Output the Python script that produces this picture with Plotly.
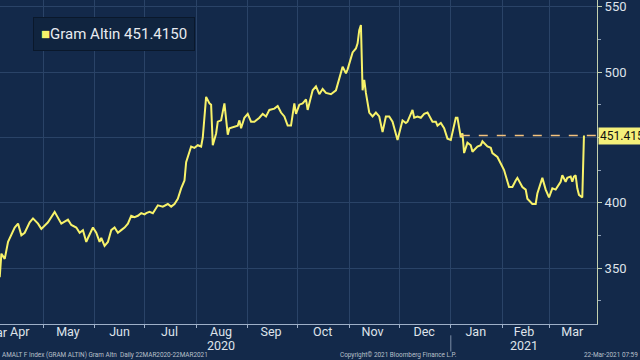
import plotly.graph_objects as go

# ---------------- data ----------------
dates = [
    "2020-04-03", "2020-04-05", "2020-04-06", "2020-04-08", "2020-04-10", "2020-04-14", "2020-04-16",
    "2020-04-18", "2020-04-20", "2020-04-23", "2020-04-25", "2020-04-28", "2020-04-30",
    "2020-05-04", "2020-05-08", "2020-05-12", "2020-05-16", "2020-05-18", "2020-05-21", "2020-05-23",
    "2020-05-25", "2020-05-27", "2020-05-28", "2020-05-31",
    "2020-06-02", "2020-06-04", "2020-06-05", "2020-06-07", "2020-06-09", "2020-06-11", "2020-06-13",
    "2020-06-15", "2020-06-17", "2020-06-19", "2020-06-21", "2020-06-23", "2020-06-25", "2020-06-27",
    "2020-06-29",
    "2020-07-01", "2020-07-02", "2020-07-04", "2020-07-06", "2020-07-09", "2020-07-12", "2020-07-15",
    "2020-07-17", "2020-07-19", "2020-07-21", "2020-07-23", "2020-07-25", "2020-07-26", "2020-07-29",
    "2020-07-31",
    "2020-08-02", "2020-08-04", "2020-08-05", "2020-08-07", "2020-08-09", "2020-08-10", "2020-08-11",
    "2020-08-13", "2020-08-14", "2020-08-16", "2020-08-18", "2020-08-20", "2020-08-21", "2020-08-24",
    "2020-08-26", "2020-08-27", "2020-08-28", "2020-08-30",
    "2020-09-01", "2020-09-03", "2020-09-05", "2020-09-08", "2020-09-10", "2020-09-12", "2020-09-14",
    "2020-09-17", "2020-09-19", "2020-09-21", "2020-09-23", "2020-09-25", "2020-09-27", "2020-09-29",
    "2020-09-30",
    "2020-10-02", "2020-10-04", "2020-10-06", "2020-10-07", "2020-10-10", "2020-10-12", "2020-10-14",
    "2020-10-16", "2020-10-18", "2020-10-21", "2020-10-24", "2020-10-25", "2020-10-28", "2020-10-30",
    "2020-10-31",
    "2020-11-03", "2020-11-05", "2020-11-06", "2020-11-07", "2020-11-08", "2020-11-09", "2020-11-10",
    "2020-11-11", "2020-11-13", "2020-11-15", "2020-11-17", "2020-11-19", "2020-11-21", "2020-11-23",
    "2020-11-25", "2020-11-27", "2020-11-30",
    "2020-12-03", "2020-12-05", "2020-12-06", "2020-12-09", "2020-12-10", "2020-12-12", "2020-12-14",
    "2020-12-16", "2020-12-18", "2020-12-21", "2020-12-23", "2020-12-24", "2020-12-26", "2020-12-28",
    "2020-12-30",
    "2021-01-01", "2021-01-04", "2021-01-05", "2021-01-07", "2021-01-08", "2021-01-09", "2021-01-11",
    "2021-01-13", "2021-01-14", "2021-01-17", "2021-01-19", "2021-01-20", "2021-01-23", "2021-01-25",
    "2021-01-26", "2021-01-29", "2021-01-31",
    "2021-02-02", "2021-02-05", "2021-02-07", "2021-02-09", "2021-02-10", "2021-02-13", "2021-02-15",
    "2021-02-16", "2021-02-19", "2021-02-21", "2021-02-22", "2021-02-25", "2021-02-27",
    "2021-03-01", "2021-03-03", "2021-03-05", "2021-03-08", "2021-03-09", "2021-03-11", "2021-03-12",
    "2021-03-14", "2021-03-15", "2021-03-16", "2021-03-17", "2021-03-18", "2021-03-19", "2021-03-21",
    "2021-03-22",
]
values = [
    366, 343, 361, 357, 370, 381, 384,
    375, 377, 385, 388, 384, 380,
    385, 393, 384, 387, 383, 381, 377,
    379, 370, 373, 381,
    377, 370, 373, 367, 370, 379, 381,
    377, 379, 381, 384, 390, 389, 390,
    392,
    391, 392, 393, 392, 398, 397, 399,
    397, 399, 403, 411, 417, 431, 443,
    442,
    444, 443, 450, 481, 476, 475, 444,
    453, 462, 463, 476, 452, 457, 458,
    459, 463, 457, 465,
    468, 462, 462, 465, 468, 466, 471,
    472, 474, 469, 466, 459, 459, 476,
    468,
    475, 476, 479, 471, 486, 489, 483,
    487, 484, 483, 486, 491, 504, 499,
    502,
    515, 518, 522, 532, 536, 486, 494,
    484, 469, 466, 469, 466, 454, 466,
    466, 462, 448,
    463, 461, 462, 471, 465, 466, 465,
    468, 469, 462, 462, 459, 461, 457,
    449,
    448, 465, 465, 450, 453, 438, 446,
    444, 439, 443, 444, 447, 443, 442,
    438, 435, 430,
    425, 412, 412, 417, 419, 412, 410,
    403, 399, 399, 407, 419, 410,
    404, 411, 410, 416, 421, 416, 419,
    420, 416, 420, 421, 411, 406, 404,
    451.415,
]
series_name = "Gram Altin"
last_value = 451.415
last_line_start = "2021-01-07"

x_range = ["2020-04-05 04:00", "2021-03-29 20:00"]
y_range = [307.2, 555.1]

month_label_dates = ["2020-04-17", "2020-05-16", "2020-06-16", "2020-07-16",
                     "2020-08-16", "2020-09-15", "2020-10-16", "2020-11-15", "2020-12-16",
                     "2021-01-16", "2021-02-14", "2021-03-15"]
month_labels = ["Apr", "May", "Jun", "Jul", "Aug", "Sep", "Oct", "Nov", "Dec",
                "Jan", "Feb", "Mar"]
first_month_label = "Mar"           # partly cut off at the left edge
year_label_dates = ["2020-08-16", "2021-02-14"]
year_labels = ["2020", "2021"]
month_starts = ["2020-05-01", "2020-06-01", "2020-07-01", "2020-08-01", "2020-09-01", "2020-10-01",
                "2020-11-01", "2020-12-01", "2021-01-01", "2021-02-01", "2021-03-01"]
year_break = "2021-01-01"

y_tick_vals = [350, 400, 450, 500, 550]
y_tick_text = ["350", "400", "", "500", "550"]

footer_left = "AMALT F Index (GRAM ALTIN) Gram Altn  Daily 22MAR2020-22MAR2021"
footer_mid = "Copyright\u00a9 2021 Bloomberg Finance L.P."
footer_right = "22-Mar-2021 07:59"

# ---------------- styles ----------------
BG = "#13294a"
GRID = "#2a4367"
LINE = "#f7f26a"
TXT = "#dfe3ea"
FOOT = "#b9c0cb"
FONT = "Roboto"
PLOT_H = 324.0
TICK_SIZE = 12.5

fig = go.Figure()
fig.add_trace(go.Scatter(
    x=dates, y=values, mode="lines", name=series_name,
    line=dict(color=LINE, width=2), showlegend=False, hoverinfo="skip",
))

fig.add_shape(type="line", xref="x", yref="y", x0=last_line_start, x1=x_range[1],
              y0=last_value, y1=last_value,
              line=dict(color="#f4c27e", width=1.6, dash="dash"))
fig.add_shape(type="line", xref="x", yref="paper", x0=year_break, x1=year_break,
              y0=-0.035, y1=-0.085, line=dict(color="#7d8ea6", width=1))

fig.update_layout(
    width=640, height=360,
    margin=dict(l=0, r=43, t=0, b=36),
    paper_bgcolor=BG, plot_bgcolor=BG,
    font=dict(family=FONT, color=TXT, size=13),
    xaxis=dict(
        type="date", range=x_range,
        tickmode="array", tickvals=month_label_dates, ticktext=month_labels,
        tickangle=0, automargin=False, ticklabelstandoff=-4,
        showgrid=False, ticks="", zeroline=False,
        showline=True, linecolor="#9fb0c8", linewidth=1,
        tickfont=dict(family=FONT, size=TICK_SIZE, color=TXT),
        ticklabeloverflow="allow",
        minor=dict(tickmode="array", tickvals=month_starts, showgrid=True,
                   gridcolor=GRID, gridwidth=1, ticks="outside", ticklen=3,
                   tickcolor="#9fb0c8"),
    ),
    yaxis=dict(
        side="right", range=y_range, automargin=False,
        tickmode="array", tickvals=y_tick_vals, ticktext=y_tick_text,
        showgrid=True, gridcolor=GRID, gridwidth=1, zeroline=False,
        showline=True, linecolor="#c3d0ae", linewidth=1,
        ticks="outside", ticklen=4, tickcolor="#c3d0ae",
        tickfont=dict(family=FONT, size=13, color=TXT),
        ticklabeloverflow="allow",
        minor=dict(tickmode="linear", tick0=0, dtick=25, ticks="outside", ticklen=3,
                   tickcolor="#8fa0b8", showgrid=False),
    ),
)

# month label of March 2020, only its tail is visible at the left edge
fig.add_annotation(
    xref="paper", yref="paper", x=-4 / 597, y=(PLOT_H - 332) / PLOT_H,
    xanchor="center", yanchor="middle", text=first_month_label, showarrow=False,
    font=dict(family=FONT, size=TICK_SIZE, color=TXT),
)
for d, t in zip(year_label_dates, year_labels):
    fig.add_annotation(
        xref="x", yref="paper", x=d, y=(PLOT_H - 345.5) / PLOT_H,
        xanchor="center", yanchor="middle", text=t, showarrow=False,
        font=dict(family=FONT, size=TICK_SIZE, color=TXT),
    )

fig.add_annotation(
    xref="paper", yref="paper", x=33 / 597, y=1 - 17 / PLOT_H, xanchor="left", yanchor="top",
    text=f"<span style='color:{LINE}'>\u25a0</span>{series_name} {last_value:.4f}",
    showarrow=False, font=dict(family=FONT, size=15, color="#e8ebf0"),
    bgcolor="#10243f", bordercolor="#0a182b", borderwidth=1, borderpad=7,
)
fig.add_annotation(
    xref="paper", yref="y", x=1, y=last_value, xanchor="left", yanchor="middle",
    xshift=1, text=f"{last_value:.3f}", showarrow=False,
    font=dict(family=FONT, size=12, color="#111111"),
    bgcolor="#f4f07a", borderpad=1,
)
for txt, xp, anchor in [(footer_left, 0.0, "left"), (footer_mid, 398 / 597, "center"),
                        (footer_right, 582 / 597, "left")]:
    fig.add_annotation(
        xref="paper", yref="paper", x=xp, y=(PLOT_H - 354.5) / PLOT_H, xanchor=anchor,
        yanchor="middle", text=txt, showarrow=False,
        font=dict(family=FONT, size=6.4, color=FOOT),
    )

fig.write_html(
    "out.html",
    config={"displayModeBar": False},
    post_script="document.body.style.margin='0';document.body.style.background='" + BG + "';",
)
